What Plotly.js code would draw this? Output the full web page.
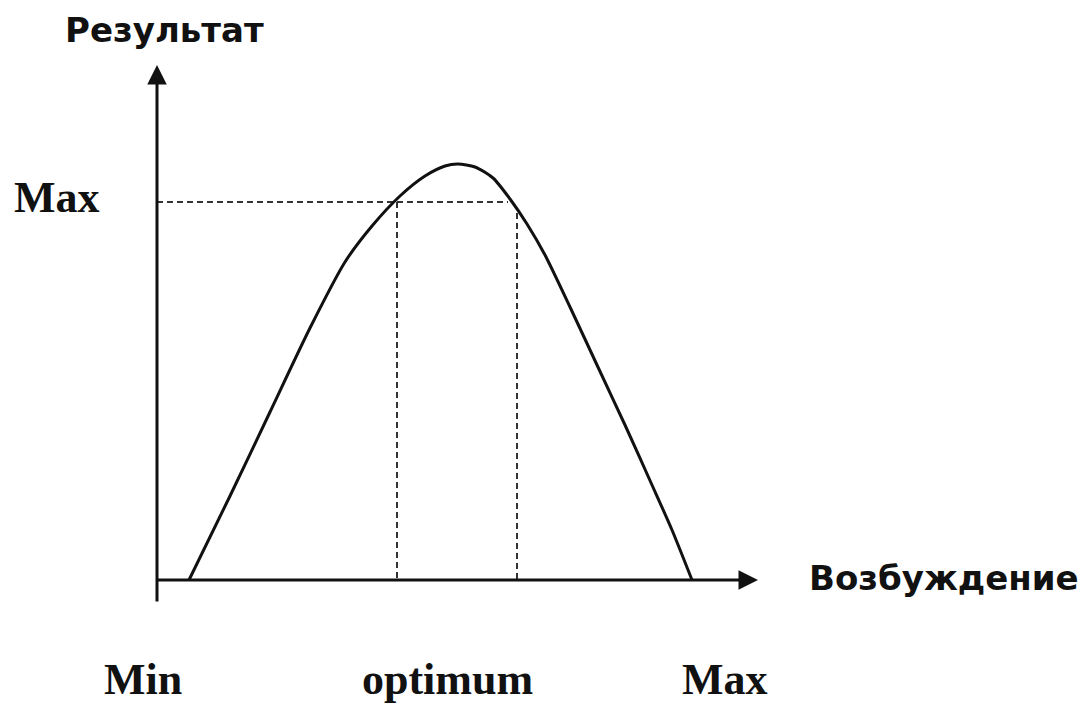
<!DOCTYPE html>
<html>
<head>
<meta charset="utf-8">
<script src="https://cdn.plot.ly/plotly-3.0.1.min.js"></script>
<style>
  html, body { margin: 0; padding: 0; background: #ffffff; }
  #chart { width: 1085px; height: 705px; }
</style>
</head>
<body>
<div id="chart"></div>
<script>
// Curve: result vs excitation (arbitrary units)
const curveX = [6.4, 14.6, 22.6, 30.6, 37.6, 43.0, 48.6, 53.6, 57.6, 60.2, 63.6, 67.2, 70.6, 74.0, 77.6, 82.6, 88.0, 93.6, 99.0, 103.0, 107.0];
const curveY = [0, 16.8, 33.6, 50.4, 63.6, 70.8, 76.8, 80.8, 82.8, 83.2, 82.6, 80.4, 76.2, 71.2, 65.0, 54.6, 43.0, 31.0, 19.0, 10.0, 0];

// Guide lines
const maxLevel = 75.6;            // "Max" result level
const maxLineEndX = 70.2;         // where the Max level meets the curve
const optimumBounds = [48, 72];   // optimum zone on excitation axis
const optimumTopY = [75.6, 73.4]; // curve height at the optimum bounds

// Axis extents
const xAxisExtent = [-0.4, 120.2];
const yAxisExtent = [-4.6, 103];

// Labels
const tickLabels = ["Min", "optimum", "Max"];
const tickPos = [-2.8, 58, 113.6];
const tickLabelY = -19.8;
const yLevelLabel = "Max";
const yLevelLabelX = -20.1;
const yAxisTitle = "Результат";
const xAxisTitle = "Возбуждение";

const ink = "#111111";
const dashColor = "#333333";
const dashStyle = "6px,4px";

const traces = [
  { x: [0, maxLineEndX], y: [maxLevel, maxLevel], mode: "lines",
    line: { color: dashColor, width: 2, dash: dashStyle }, hoverinfo: "skip" },
  { x: [optimumBounds[0], optimumBounds[0]], y: [optimumTopY[0], 0], mode: "lines",
    line: { color: dashColor, width: 2, dash: dashStyle }, hoverinfo: "skip" },
  { x: [optimumBounds[1], optimumBounds[1]], y: [optimumTopY[1], 0], mode: "lines",
    line: { color: dashColor, width: 2, dash: dashStyle }, hoverinfo: "skip" },
  { x: curveX, y: curveY, mode: "lines",
    line: { color: ink, width: 3, shape: "spline", smoothing: 0.7 }, hoverinfo: "skip" }
];

const serif = { family: "Liberation Serif", size: 44, color: ink, weight: "bold" };
const sans = { family: "DejaVu Sans", size: 34, color: ink, weight: "bold" };

const annotations = [
  // x axis with arrow
  { x: xAxisExtent[1], y: 0, ax: xAxisExtent[0], ay: 0, xref: "x", yref: "y", axref: "x", ayref: "y",
    text: "", showarrow: true, arrowhead: 2, arrowsize: 1.3, arrowwidth: 3, arrowcolor: ink, standoff: 0, startstandoff: 0 },
  // y axis with arrow
  { x: 0, y: yAxisExtent[1], ax: 0, ay: yAxisExtent[0], xref: "x", yref: "y", axref: "x", ayref: "y",
    text: "", showarrow: true, arrowhead: 2, arrowsize: 1.3, arrowwidth: 3, arrowcolor: ink, standoff: 0, startstandoff: 0 },
  { x: 1.5, y: 110, xref: "x", yref: "y", text: yAxisTitle, showarrow: false, font: sans, xanchor: "center", yanchor: "middle" },
  { x: 130.0, y: 0.4, xref: "x", yref: "y", text: xAxisTitle, showarrow: false, font: sans, xanchor: "left", yanchor: "middle" },
  { x: yLevelLabelX, y: maxLevel + 1, xref: "x", yref: "y", text: yLevelLabel, showarrow: false, font: serif, xanchor: "center", yanchor: "middle" }
];
tickLabels.forEach((t, i) => {
  annotations.push({ x: tickPos[i], y: tickLabelY, xref: "x", yref: "y", text: t, showarrow: false,
    font: serif, xanchor: "center", yanchor: "middle" });
});

const layout = {
  width: 1085, height: 705,
  margin: { l: 0, r: 0, t: 0, b: 0 },
  paper_bgcolor: "#ffffff", plot_bgcolor: "#ffffff",
  showlegend: false,
  xaxis: { range: [-31.4, 185.6], visible: false, fixedrange: true },
  yaxis: { range: [-25, 116], visible: false, fixedrange: true },
  annotations: annotations
};

Plotly.newPlot("chart", traces, layout, { displayModeBar: false, staticPlot: true });
</script>
</body>
</html>
